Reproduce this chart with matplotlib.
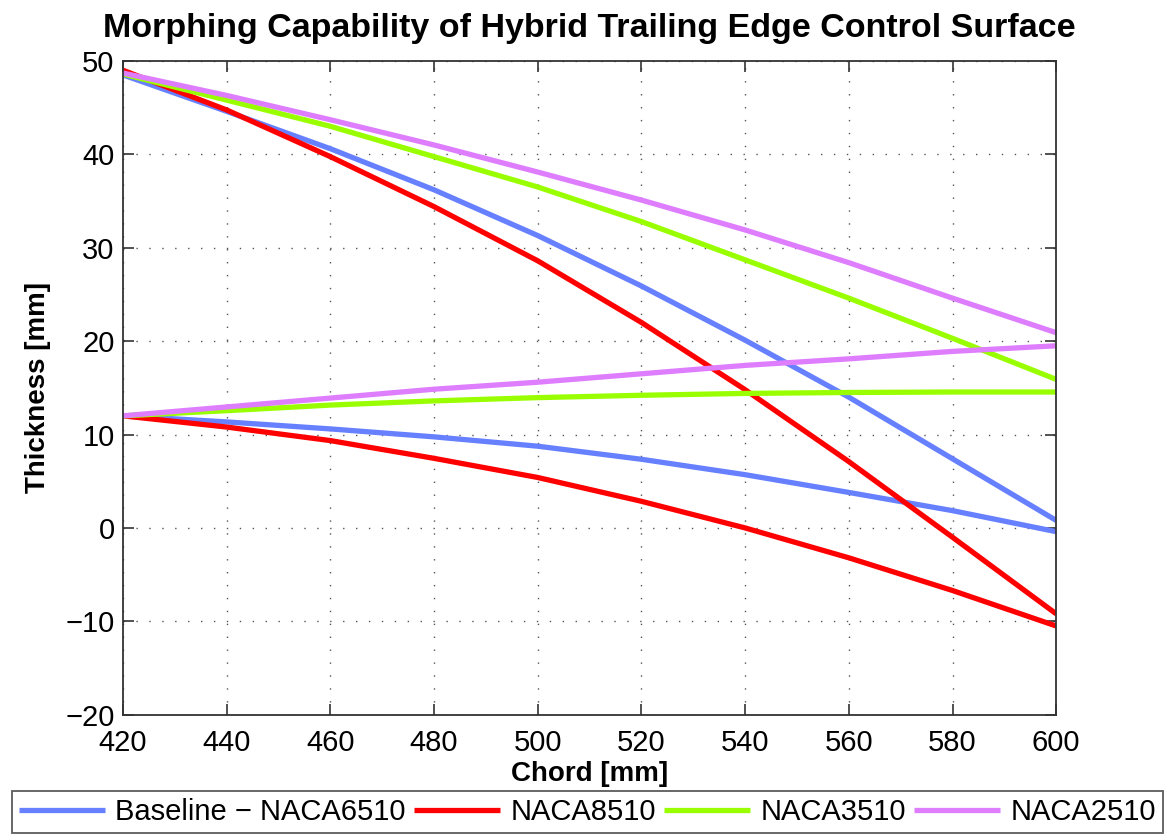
import matplotlib
matplotlib.use("Agg")
import matplotlib.pyplot as plt

plt.rcParams['font.family'] = ['Liberation Sans', 'DejaVu Sans']

# Chord stations [mm]
chord = [420, 440, 460, 480, 500, 520, 540, 560, 580, 600]

# Upper / lower trailing-edge surface thickness [mm] for each airfoil
baseline_upper = [48.5, 44.6, 40.6, 36.2, 31.3, 25.9, 20.1, 14.0, 7.4, 0.8]
baseline_lower = [12.0, 11.35, 10.6, 9.75, 8.75, 7.35, 5.7, 3.8, 1.85, -0.4]
naca8510_upper = [49.0, 44.75, 39.75, 34.4, 28.6, 22.0, 14.8, 7.1, -1.0, -9.2]
naca8510_lower = [12.0, 10.8, 9.35, 7.45, 5.4, 2.85, 0.0, -3.2, -6.7, -10.5]
naca3510_upper = [48.6, 45.8, 43.0, 39.75, 36.5, 32.8, 28.7, 24.6, 20.3, 15.9]
naca3510_lower = [12.0, 12.55, 13.15, 13.6, 13.95, 14.2, 14.4, 14.5, 14.55, 14.55]
naca2510_upper = [48.7, 46.3, 43.7, 41.0, 38.1, 35.1, 31.9, 28.4, 24.6, 20.9]
naca2510_lower = [12.0, 12.95, 13.9, 14.85, 15.6, 16.5, 17.4, 18.1, 18.9, 19.5]

labels = ['Baseline \u2212 NACA6510', 'NACA8510', 'NACA3510', 'NACA2510']
colors = ['#6680FF', '#FF0000', '#99FF00', '#DF7DFF']
series = [(baseline_upper, baseline_lower),
          (naca8510_upper, naca8510_lower),
          (naca3510_upper, naca3510_lower),
          (naca2510_upper, naca2510_lower)]

x_ticks = [420, 440, 460, 480, 500, 520, 540, 560, 580, 600]
y_ticks = [-20, -10, 0, 10, 20, 30, 40, 50]

fig = plt.figure(figsize=(11.68, 8.34), dpi=100)
ax = fig.add_axes([0.1052, 0.143, 0.7991, 0.784])

lw = 3.8
handles = []
for (up, lo), c, lab in zip(series, colors, labels):
    h, = ax.plot(chord, up, color=c, lw=lw, label=lab, solid_capstyle='butt')
    ax.plot(chord, lo, color=c, lw=lw, solid_capstyle='butt')
    handles.append(h)

ax.set_xlim(420, 600)
ax.set_ylim(-20, 50)
ax.set_xticks(x_ticks)
ax.set_yticks(y_ticks)
ax.grid(True, color='#555555', linestyle=(0, (1, 8.3)), linewidth=1.0)
ax.tick_params(direction='in', length=8, width=1.2, top=True, right=True,
               labelsize=21, colors='#333333', labelcolor='black')
ax.tick_params(axis='y', pad=6)
ax.tick_params(axis='x', pad=10)
for s in ax.spines.values():
    s.set_color('#333333')
    s.set_linewidth(1.3)

ax.set_title('Morphing Capability of Hybrid Trailing Edge Control Surface',
             fontsize=24.5, fontweight='bold', pad=17)
ax.set_xlabel('Chord [mm]', fontsize=20, fontweight='bold', labelpad=3)
ax.set_ylabel('Thickness [mm]', fontsize=20, fontweight='bold', labelpad=10)

leg = fig.legend(handles=handles, labels=labels, loc='lower left',
                 bbox_to_anchor=(0.0103, 0.001, 0.9854, 0.0517),
                 mode='expand', ncol=4, fontsize=21, frameon=True,
                 fancybox=False, edgecolor='#333333', handlelength=2.95,
                 handletextpad=0.34, borderaxespad=0.0, columnspacing=0.3,
                 borderpad=0.25)
leg.get_frame().set_linewidth(1.3)

fig.savefig('out.png', dpi=100)
